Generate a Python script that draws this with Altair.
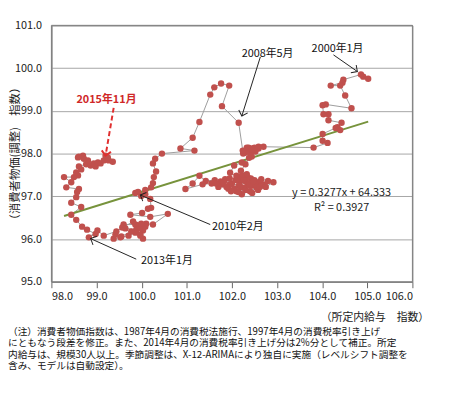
import math
import altair as alt
import pandas as pd

# ---- data: monthly path 2000/1 .. 2015/11 (wage index, adjusted CPI index) ----
wage = [
    # 2000/1 - 2002/6
    104.91, 105.02, 104.86, 104.47, 104.45, 104.19, 104.40, 104.51, 104.65, 104.08,
    104.01, 104.03, 104.14, 104.14, 104.43, 104.34, 104.40, 104.30, 104.01, 104.01,
    104.12, 103.81, 102.70, 102.59, 102.50, 102.44, 102.33, 102.28, 102.44, 102.22,
    # 2002/7 - 2007/12
    102.05, 101.96, 102.10, 102.25, 102.18, 102.35, 102.28, 102.45, 102.60, 102.72,
    102.55, 102.40, 102.22, 102.10, 101.92, 101.80, 101.62, 101.42, 101.28, 101.13,
    100.97, 101.35, 101.55, 101.75, 101.85, 102.00, 102.15, 102.30, 102.42, 102.38,
    102.20, 102.05, 101.95, 102.08, 102.22, 102.35, 102.50, 102.65, 102.80, 102.92,
    102.75, 102.58, 102.45, 102.30, 102.15, 101.98, 101.88, 101.70, 101.65, 101.82,
    101.95, 102.12, 102.26, 102.40, 102.52, 102.62, 102.48, 102.33, 102.20, 102.30,
    102.38, 102.25, 102.35, 102.45, 102.52, 102.40,
    # 2008/1 - 2010/2
    102.37, 102.59, 102.44, 102.24, 102.15, 101.78, 101.94, 101.76, 101.61, 101.52,
    101.28, 101.13, 100.86, 101.17, 100.45, 100.30, 100.25, 100.32, 100.27, 100.25,
    100.21, 100.08, 99.92, 99.86, 100.08, 99.99,
    # 2010/3 - 2012/12
    100.19, 100.21, 100.14, 100.01, 99.75, 100.19, 100.58, 100.25, 100.10, 100.01,
    99.92, 99.86, 99.60, 99.57, 99.64, 99.88, 100.03, 99.97, 100.03, 99.97,
    99.86, 99.71, 99.53, 99.38, 99.42, 99.55, 99.77, 99.95, 100.08, 99.99,
    99.81, 99.44, 99.16, 99.02,
    # 2013/1 - 2015/11
    98.83, 98.98, 98.79, 98.68, 98.55, 98.44, 98.66, 98.44, 98.55, 98.57,
    98.61, 98.33, 98.44, 98.28, 98.50, 98.59, 98.55, 98.66, 98.61, 98.77,
    98.87, 98.98, 98.81, 98.72, 98.59, 98.70, 98.61, 98.94, 99.03, 99.09,
    99.16, 99.27, 99.36, 99.25, 99.20,
]
cpi = [
    # 2000/1 - 2002/6
    99.80, 99.75, 99.85, 99.73, 99.66, 99.59, 99.59, 99.36, 99.06, 99.15,
    99.13, 98.92, 98.92, 98.78, 98.72, 98.62, 98.55, 98.60, 98.46, 98.30,
    98.25, 98.14, 98.16, 98.12, 98.14, 98.07, 98.14, 98.02, 97.93, 97.79,
    # 2002/7 - 2007/12
    97.72, 97.55, 97.48, 97.42, 97.35, 97.30, 97.20, 97.25, 97.33, 97.28,
    97.20, 97.12, 97.05, 97.12, 97.18, 97.28, 97.38, 97.36, 97.48, 97.30,
    97.17, 97.28, 97.30, 97.35, 97.40, 97.30, 97.25, 97.35, 97.42, 97.30,
    97.22, 97.18, 97.28, 97.38, 97.48, 97.45, 97.38, 97.40, 97.36, 97.33,
    97.22, 97.15, 97.08, 97.15, 97.10, 97.12, 97.22, 97.22, 97.30, 97.33,
    97.42, 97.42, 97.38, 97.25, 97.28, 97.22, 97.35, 97.52, 97.60, 97.75,
    97.90, 98.00, 98.08, 98.12, 98.05, 98.02,
    # 2008/1 - 2010/2
    98.14, 98.16, 98.09, 98.07, 98.72, 99.11, 99.59, 99.64, 99.55, 99.38,
    98.74, 98.37, 98.12, 98.07, 98.00, 97.88, 97.77, 97.58, 97.45, 97.31,
    97.21, 97.15, 97.10, 97.08, 97.05, 97.01,
    # 2010/3 - 2012/12
    96.94, 96.73, 96.71, 96.61, 96.57, 96.52, 96.59, 96.34, 96.36, 96.27,
    96.31, 96.34, 96.34, 96.27, 96.25, 96.22, 96.20, 96.11, 96.01, 96.08,
    96.15, 96.08, 96.04, 96.01, 96.11, 96.06, 96.18, 96.25, 96.29, 96.36,
    96.41, 96.18, 96.08, 96.20,
    # 2013/1 - 2015/11
    96.04, 96.12, 96.22, 96.29, 96.45, 96.57, 96.75, 96.85, 96.98, 97.10,
    97.17, 97.21, 97.33, 97.45, 97.45, 97.49, 97.56, 97.63, 97.70, 97.75,
    97.72, 97.70, 97.84, 97.88, 97.91, 97.95, 97.93, 97.77, 97.79, 97.77,
    97.84, 97.84, 97.81, 97.91, 97.95,
]

x_ticks = [98.0, 99.0, 100.0, 101.0, 102.0, 103.0, 104.0, 105.0, 106.0]
y_ticks = [95.0, 96.0, 97.0, 98.0, 99.0, 100.0, 101.0]
x_title = "（所定内給与　指数）"
y_title = "（消費者物価(調整)　指数）"

# trend line as printed on the chart
slope = 0.3277
intercept = 64.333
eq_text = ["y = 0.3277x + 64.333", "R² = 0.3927"]
eq_x = [104.43, 104.43]
eq_y = [97.08, 96.73]

# annotations
ann_text = ["2015年11月", "2008年5月", "2000年1月", "2010年2月", "2013年1月"]
ann_x = [99.22, 102.79, 104.34, 102.13, 100.56]
ann_y = [99.25, 100.33, 100.45, 96.27, 95.48]
arr_x1 = [99.38, 102.63, 104.25, 101.52, 99.88]
arr_y1 = [99.07, 100.26, 100.31, 96.34, 95.53]
arr_x2 = [99.20, 102.22, 104.78, 99.97, 98.87]
arr_y2 = [97.95, 98.88, 99.92, 97.03, 96.01]

note_lines = [
    "（注）消費者物価指数は、1987年4月の消費税法施行、1997年4月の消費税率引き上げ",
    "にともなう段差を修正。また、2014年4月の消費税率引き上げ分は2%分として補正。所定",
    "内給与は、規模30人以上。季節調整は、X-12-ARIMAにより独自に実施（レベルシフト調整を",
    "含み、モデルは自動設定）。",
]

# ---- layout ----
W, H = 366, 260
XMIN, XMAX, YMIN, YMAX = 98, 106, 95, 101
FONT = "Noto Sans CJK JP"
RED = "#c0504d"

df = pd.DataFrame({"t": list(range(len(wage))), "wage": wage, "cpi": cpi})

tx = [min(wage), max(wage)]
trend = pd.DataFrame({"wage": tx, "cpi": [slope * v + intercept for v in tx]})

def angle(x1, y1, x2, y2):
    dx = (x2 - x1) * W / (XMAX - XMIN)
    dy = -(y2 - y1) * H / (YMAX - YMIN)
    return math.degrees(math.atan2(dy, dx)) % 360

arrows = pd.DataFrame({
    "wage": arr_x1, "cpi": arr_y1, "wage2": arr_x2, "cpi2": arr_y2,
    "ang": [angle(a, b, c, d) for a, b, c, d in zip(arr_x1, arr_y1, arr_x2, arr_y2)],
})
heads = pd.DataFrame({"wage": arr_x2, "cpi": arr_y2, "ang": arrows["ang"]})
ann = pd.DataFrame({"text": ann_text, "wage": ann_x, "cpi": ann_y})
eq = pd.DataFrame({"text": eq_text, "wage": eq_x, "cpi": eq_y})
titles = pd.DataFrame({"xt": [x_title], "yt": [y_title]})
frame = pd.DataFrame({"wage": [XMIN], "wage2": [XMAX], "cpi": [YMIN], "cpi2": [YMAX]})

xscale = alt.Scale(domain=[XMIN, XMAX], nice=False, zero=False)
yscale = alt.Scale(domain=[YMIN, YMAX], nice=False, zero=False)

xaxis = alt.Axis(values=x_ticks, format=".1f", grid=False, title=None,
                 labelFontSize=11, labelColor="#222", labelPadding=3,
                 tickSize=6, tickColor="#666", domainColor="#808080")
yaxis = alt.Axis(values=y_ticks, format=".1f", grid=True, gridColor="#a6a6a6",
                 title=None, labelFontSize=11, labelColor="#222", labelPadding=10,
                 ticks=False, domainColor="#808080")

X = alt.X("wage:Q", scale=xscale, axis=xaxis)
Y = alt.Y("cpi:Q", scale=yscale, axis=yaxis)

border = alt.Chart(frame).mark_rect(fill=None, stroke="#808080", strokeWidth=1).encode(
    x=X, y=Y, x2="wage2:Q", y2="cpi2:Q")
path = alt.Chart(df).mark_line(color="#9c9c9c", strokeWidth=1).encode(x=X, y=Y, order="t:Q")
dots = alt.Chart(df).mark_circle(size=42, color=RED, opacity=1).encode(x=X, y=Y)
trend_line = alt.Chart(trend).mark_line(color="#77933c", strokeWidth=2).encode(x=X, y=Y)

red_arrow = arrows.iloc[[0]]
blk_arrows = arrows.iloc[1:]
red_head = heads.iloc[[0]]
blk_heads = heads.iloc[1:]
CHEVRON = "M-1,-1L0,0L-1,1"

arrow_red_line = alt.Chart(red_arrow).mark_rule(color="#e03030", strokeWidth=2, strokeDash=[5, 3]).encode(
    x=X, y=Y, x2="wage2:Q", y2="cpi2:Q")
arrow_red_head = alt.Chart(red_head).mark_point(shape=CHEVRON, filled=False, color="#e03030",
                                                strokeWidth=2, size=90, opacity=1).encode(
    x=X, y=Y, angle=alt.Angle("ang:Q", scale=None))
arrow_blk_line = alt.Chart(blk_arrows).mark_rule(color="#222", strokeWidth=1).encode(
    x=X, y=Y, x2="wage2:Q", y2="cpi2:Q")
arrow_blk_head = alt.Chart(blk_heads).mark_point(shape=CHEVRON, filled=False, color="#222",
                                                 strokeWidth=1, size=90, opacity=1).encode(
    x=X, y=Y, angle=alt.Angle("ang:Q", scale=None))

ann_red = alt.Chart(ann.iloc[[0]]).mark_text(font=FONT, fontSize=11, fontWeight="bold", color="#d02828").encode(
    x=X, y=Y, text="text:N")
ann_blk = alt.Chart(ann.iloc[1:]).mark_text(font=FONT, fontSize=11, color="#111").encode(
    x=X, y=Y, text="text:N")
eq_txt = alt.Chart(eq).mark_text(font=FONT, fontSize=11, color="#222").encode(
    x=X, y=Y, text="text:N")

ytitle_txt = alt.Chart(titles).mark_text(font=FONT, fontSize=11.5, angle=270, color="#222",
                                         align="center", baseline="middle").encode(
    x=alt.value(-36), y=alt.value(H / 2), text="yt:N")
xtitle_txt = alt.Chart(titles).mark_text(font=FONT, fontSize=11, color="#222",
                                         align="right", baseline="middle").encode(
    x=alt.value(W + 17), y=alt.value(H + 37), text="xt:N")

note_layers = []
for i, line in enumerate(note_lines):
    note_layers.append(
        alt.Chart(pd.DataFrame({"text": [line]})).mark_text(
            font=FONT, fontSize=9.8, align="left", baseline="middle", color="#111"
        ).encode(x=alt.value(-44), y=alt.value(H + 51 + i * 11.5), text="text:N")
    )

chart = alt.layer(
    border, path, trend_line, dots,
    arrow_red_line, arrow_red_head, arrow_blk_line, arrow_blk_head,
    ann_red, ann_blk, eq_txt, ytitle_txt, xtitle_txt, *note_layers,
).properties(
    width=W, height=H,
    autosize=alt.AutoSizeParams(type="none"),
    padding={"left": 44, "top": 15, "right": 30, "bottom": 100},
).configure(font=FONT).configure_view(stroke="#808080", strokeWidth=1)

chart.save("out.html", embed_options={"renderer": "svg", "actions": False})
